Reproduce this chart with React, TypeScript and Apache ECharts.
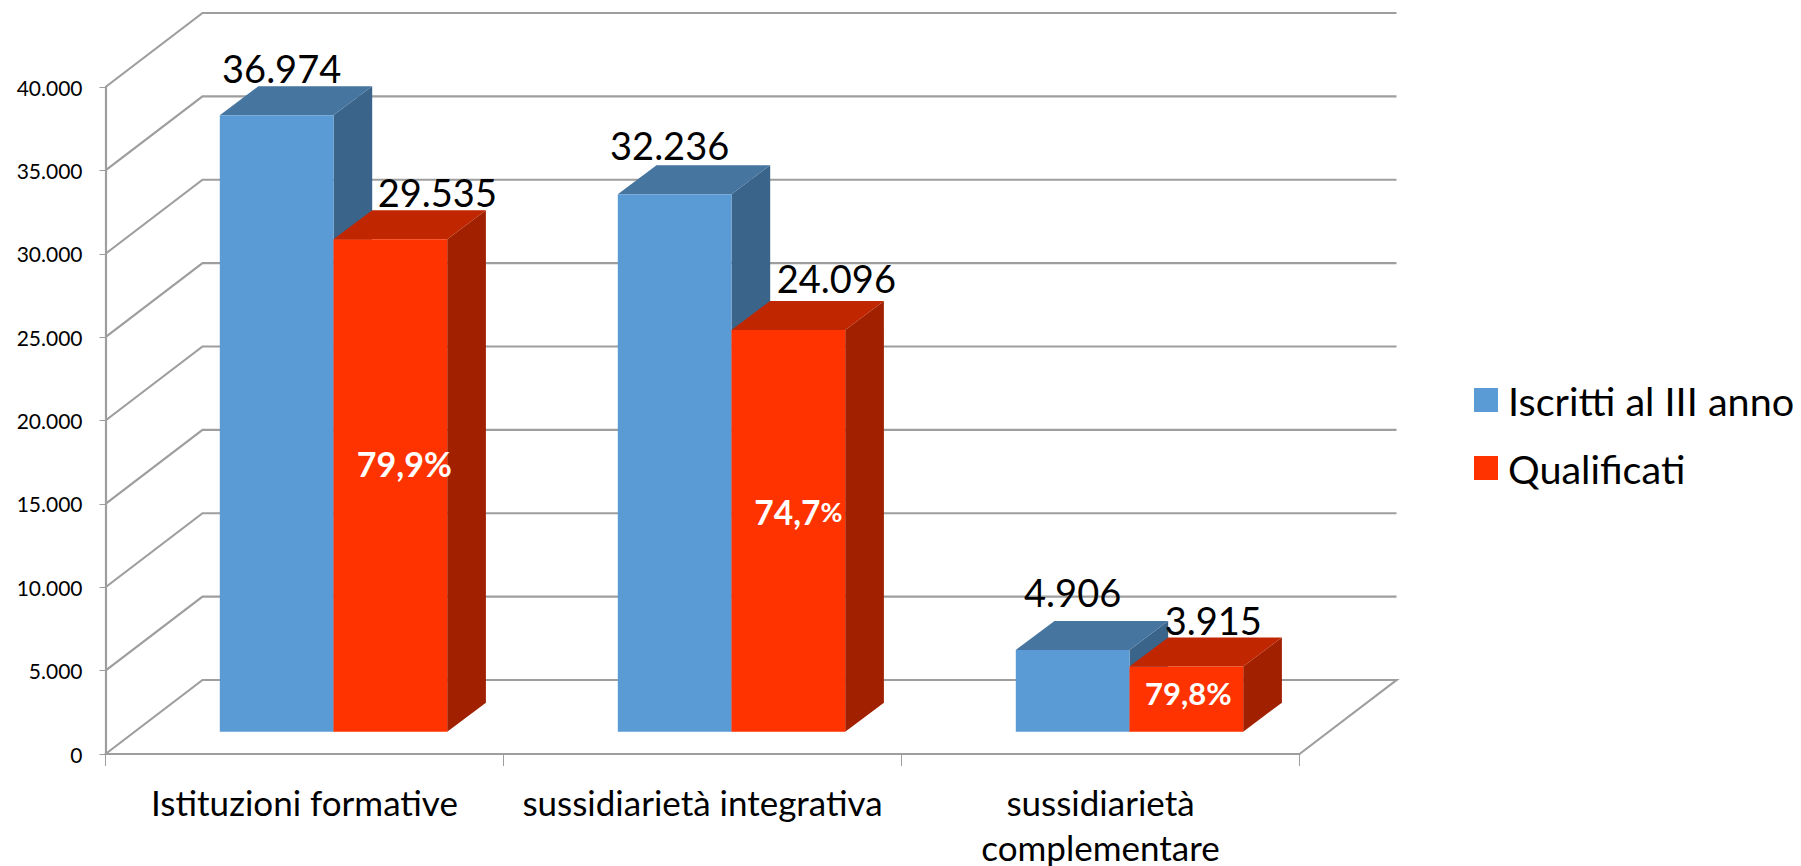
import React, { useEffect, useRef } from "react";
import * as echarts from "echarts";

const categories = ["Istituzioni formative", "sussidiarietà integrativa", "sussidiarietà\ncomplementare"];
const seriesNames = ["Iscritti al III anno", "Qualificati"];
const iscritti = [36974, 32236, 4906];
const qualificati = [29535, 24096, 3915];
const percentLabels = ["79,9%", "74,7%", "79,8%"];
const yTicks = [0, 5000, 10000, 15000, 20000, 25000, 30000, 35000, 40000];

// Layout of the pseudo-3D view, in pixels
const WALL_DX = 97;
const WALL_DY = 74;
const FLOOR_DX = 29;
const FLOOR_DY = 22.3;
const BAR_W = 113.7;
const DEPTH_DX = 38.7;
const DEPTH_DY = 29;
const PERCENT_LIFT = [0.544, 0.546, 0.6];
const PERCENT_DX = [14, 10, 2];
const PERCENT_SIZE = [34, 33.5, 31];
const BLUE_LABEL = [[5, -18], [-5, -20], [0, -29]];
const RED_LABEL = [[47, -18], [48, -23], [27, -17]];
const AXIS_COLOR = "#9e9e9e";
const FONT = "Lato";

const fmt = (v: number) => String(v).replace(/\B(?=(\d{3})+$)/g, ".");

function wallItem(params: any, api: any) {
  const v = api.value(1);
  const cs = params.coordSys;
  const y = api.coord([0, v])[1];
  const x0 = cs.x;
  const x1 = cs.x + cs.width;
  const pts =
    v === 0
      ? [[x0, y], [x0 + WALL_DX, y - WALL_DY], [x1 + WALL_DX, y - WALL_DY], [x1, y]]
      : [[x0, y], [x0 + WALL_DX, y - WALL_DY], [x1 + WALL_DX, y - WALL_DY]];
  return {
    type: "polyline",
    silent: true,
    shape: { points: pts },
    style: { fill: "none", stroke: AXIS_COLOR, lineWidth: 2.2 },
  };
}

function barItem(side: "left" | "right", front: string, top: string, right: string, shifts: number[][], withPercent: boolean) {
  return (params: any, api: any) => {
    const i = params.dataIndex;
    const p = api.coord([api.value(0), api.value(1)]);
    const base = api.coord([api.value(0), 0]);
    const cx = p[0] + FLOOR_DX;
    const xl = side === "left" ? cx - BAR_W : cx;
    const xr = xl + BAR_W;
    const yt = p[1] - FLOOR_DY;
    const yb = base[1] - FLOOR_DY;
    const dx = DEPTH_DX;
    const dy = DEPTH_DY;
    const children: any[] = [
      { type: "polygon", silent: true, shape: { points: [[xr, yt], [xr + dx, yt - dy], [xr + dx, yb - dy], [xr, yb]] }, style: { fill: right } },
      { type: "polygon", silent: true, shape: { points: [[xl, yt], [xl + dx, yt - dy], [xr + dx, yt - dy], [xr, yt]] }, style: { fill: top } },
      { type: "rect", silent: true, shape: { x: xl, y: yt, width: BAR_W, height: yb - yt }, style: { fill: front } },
      {
        type: "text",
        silent: true,
        z2: 10,
        style: {
          text: fmt(api.value(1)),
          x: (xl + xr) / 2 + shifts[i][0],
          y: yt - dy + shifts[i][1],
          align: "center",
          verticalAlign: "middle",
          fontFamily: FONT,
          fontSize: 38,
          fill: "#000000",
        },
      },
    ];
    if (withPercent) {
      const label = percentLabels[i];
      const small = i === 1;
      const size = PERCENT_SIZE[i];
      children.push({
        type: "text",
        silent: true,
        z2: 10,
        style: {
          text: small ? `{a|${label.slice(0, -1)}}{b|%}` : label,
          x: (xl + xr) / 2 + PERCENT_DX[i],
          y: yb - (yb - yt) * PERCENT_LIFT[i],
          align: "center",
          verticalAlign: "middle",
          fontFamily: FONT,
          fontWeight: "bold",
          fontSize: size,
          fill: "#ffffff",
          rich: small
            ? {
                a: { fontFamily: FONT, fontWeight: "bold", fontSize: size, fill: "#ffffff", color: "#ffffff" },
                b: { fontFamily: FONT, fontWeight: "bold", fontSize: size * 0.8, fill: "#ffffff", color: "#ffffff" },
              }
            : undefined,
        },
      });
    }
    return { type: "group", children };
  };
}

export default function App() {
  const ref = useRef<HTMLDivElement>(null);
  useEffect(() => {
    if (!ref.current) return;
    const chart = echarts.init(ref.current, undefined, { renderer: "svg" });
    chart.setOption({
      animation: false,
      backgroundColor: "#ffffff",
      grid: { left: 105.5, top: 87, width: 1194, height: 667, containLabel: false, outerBoundsMode: "none" },
      legend: {
        data: seriesNames,
        orient: "vertical",
        left: 1474,
        top: 380,
        padding: 0,
        itemWidth: 24,
        itemHeight: 24,
        itemGap: 28,
        icon: "rect",
        selectedMode: false,
        textStyle: { fontFamily: FONT, fontSize: 39.6, color: "#000000", lineHeight: 40, padding: [0, 0, 0, 5] },
      },
      xAxis: {
        type: "category",
        data: categories,
        axisLine: { show: true, lineStyle: { color: AXIS_COLOR, width: 2.2 } },
        axisTick: { show: true, length: 12, lineStyle: { color: AXIS_COLOR, width: 1 } },
        axisLabel: {
          interval: 0,
          margin: 25,
          fontFamily: FONT,
          fontSize: 35,
          lineHeight: 45,
          color: "#000000",
        },
      },
      yAxis: {
        type: "value",
        min: 0,
        max: 40000,
        interval: 5000,
        axisLine: { show: true, lineStyle: { color: AXIS_COLOR, width: 2.2 } },
        axisTick: { show: true, length: 6, lineStyle: { color: AXIS_COLOR, width: 1 } },
        splitLine: { show: false },
        axisLabel: {
          margin: 23,
          fontFamily: FONT,
          fontSize: 21,
          color: "#000000",
          formatter: (v: number) => fmt(v),
        },
      },
      series: [
        {
          type: "custom",
          name: "pareti",
          clip: false,
          silent: true,
          encode: { x: 0, y: 1 },
          data: yTicks.map((v) => [0, v]),
          renderItem: wallItem,
        },
        {
          type: "custom",
          name: seriesNames[0],
          clip: false,
          silent: true,
          itemStyle: { color: "#5b9bd5" },
          encode: { x: 0, y: 1 },
          data: iscritti.map((v, i) => [i, v]),
          renderItem: barItem("left", "#5b9bd5", "#4675a0", "#3a6489", BLUE_LABEL, false),
        },
        {
          type: "custom",
          name: seriesNames[1],
          clip: false,
          silent: true,
          itemStyle: { color: "#ff3300" },
          encode: { x: 0, y: 1 },
          data: qualificati.map((v, i) => [i, v]),
          renderItem: barItem("right", "#ff3300", "#c02600", "#a02000", RED_LABEL, true),
        },
      ],
    });
    return () => chart.dispose();
  }, []);
  return <div ref={ref} style={{ position: "fixed", left: 0, top: 0, width: 1801, height: 866 }} />;
}
